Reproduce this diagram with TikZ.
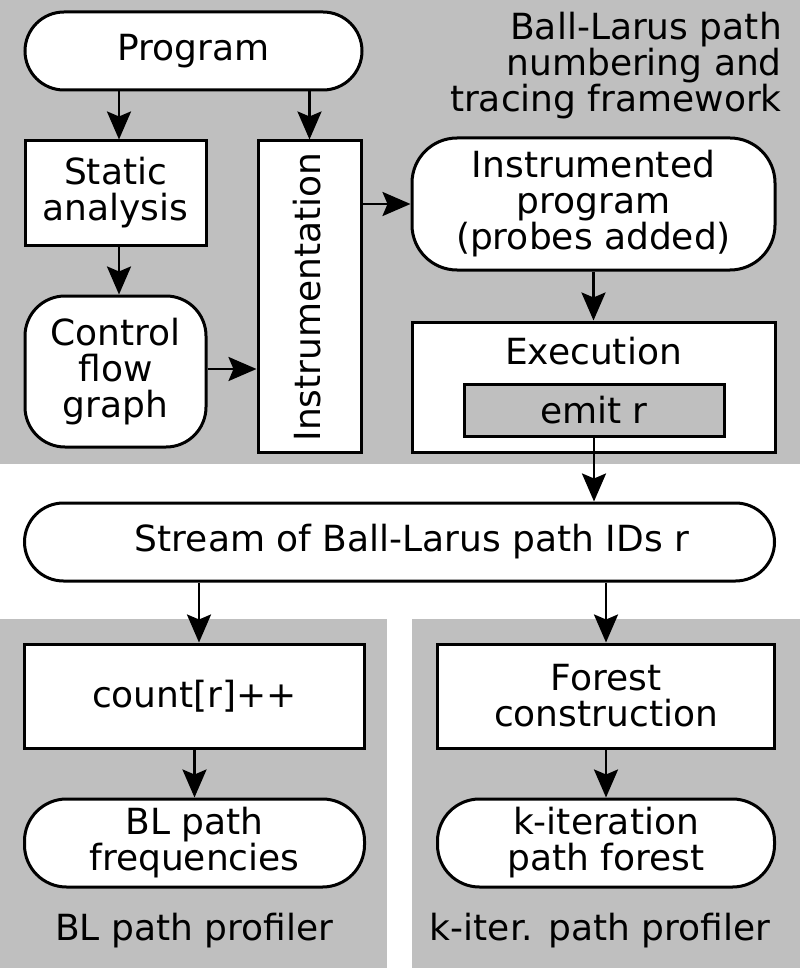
\documentclass[tikz,border=0pt]{standalone}
\usepackage{fontspec}
\setmainfont{DejaVu Sans}
\usetikzlibrary{arrows.meta,calc}
\definecolor{panel}{RGB}{191,191,191}
\tikzset{
  x=1pt, y=-1pt,
  every node/.style={font=\fontsize{36}{36}\selectfont, align=center, inner sep=0pt},
  box/.style={draw=black, line width=3pt, fill=white, rectangle},
  pill/.style={box, rounded corners=#1},
  arr/.style={line width=2.8pt, -{Stealth[length=28pt, width=24pt, inset=5pt]}},
}
\begin{document}
\begin{tikzpicture}
\useasboundingbox (0,0) rectangle (800,968);
% panels
\fill[panel] (0,0) rectangle (800,464);
\fill[panel] (0,619) rectangle (387,968);
\fill[panel] (412,619) rectangle (800,968);

% title
\node[anchor=north east, align=right] (title) at (782,12) {Ball-Larus path\\numbering and\\tracing framework};

% top section nodes
\node[pill=39pt, minimum width=337pt, minimum height=78pt] (prog) at (193.5,51) {Program};
\node[box, minimum width=181pt, minimum height=104pt] (stat) at (115.5,193) {Static\\analysis};
\node[pill=40pt, minimum width=181pt, minimum height=151pt] (cfg) at (115.5,371.5) {Control\\flow\\graph};
\node[box, minimum width=103pt, minimum height=311pt] (instr) at (309.5,296.5) {};
\node[rotate=90] (instrtext) at (307,297) {Instrumentation};
\node[pill=45pt, minimum width=363pt, minimum height=132pt] (iprog) at (593.5,204) {Instrumented\\program\\(probes added)};
\node[box, minimum width=363pt, minimum height=130pt] (exec) at (593.5,387) {};
\node[anchor=base] (exectext) at (593.5,364) {Execution};
\node[box, fill=panel, minimum width=260pt, minimum height=52pt] (emit) at (594,410) {emit r};

% stream
\node[pill=39pt, minimum width=750pt, minimum height=78pt] (stream) at (399.5,542) {};
\node (streamtext) at (412,542) {Stream of Ball-Larus path IDs r};

% bottom nodes
\node[box, minimum width=340pt, minimum height=104pt] (count) at (194.5,696) {count[r]++};
\node[box, minimum width=337pt, minimum height=104pt] (forest) at (606,696) {Forest\\construction};
\node[pill=42pt, minimum width=340pt, minimum height=88pt] (blf) at (194.5,843) {BL path\\frequencies};
\node[pill=42pt, minimum width=337pt, minimum height=88pt] (kit) at (606,843) {k-iteration\\path forest};

\node[anchor=base] (bllabel) at (194,940) {BL path profiler};
\node[anchor=base] (klabel) at (600,940) {k-iter. path profiler};

% connectors
\draw[arr] ([xshift=3.5pt]prog.south -| stat.north) -- ([xshift=3.5pt]stat.north);
\draw[arr] (prog.south -| instr.north) -- (instr.north);
\draw[arr] ([xshift=3.5pt]stat.south) -- ([xshift=3.5pt]stat.south |- cfg.north);
\draw[arr] ([yshift=2.5pt]cfg.east) -- ([yshift=2.5pt]cfg.east -| instr.west);
\draw[arr] (instr.east |- iprog.west) -- (iprog.west);
\draw[arr] (iprog.south) -- (iprog.south |- exec.north);
\draw[arr] (emit.south) -- (emit.south |- stream.north);
\draw[arr] ([xshift=4.5pt]count.north |- stream.south) -- ([xshift=4.5pt]count.north);
\draw[arr] (forest.north |- stream.south) -- (forest.north);
\draw[arr] (count.south) -- (count.south |- blf.north);
\draw[arr] (forest.south) -- (forest.south |- kit.north);
\end{tikzpicture}
\end{document}
